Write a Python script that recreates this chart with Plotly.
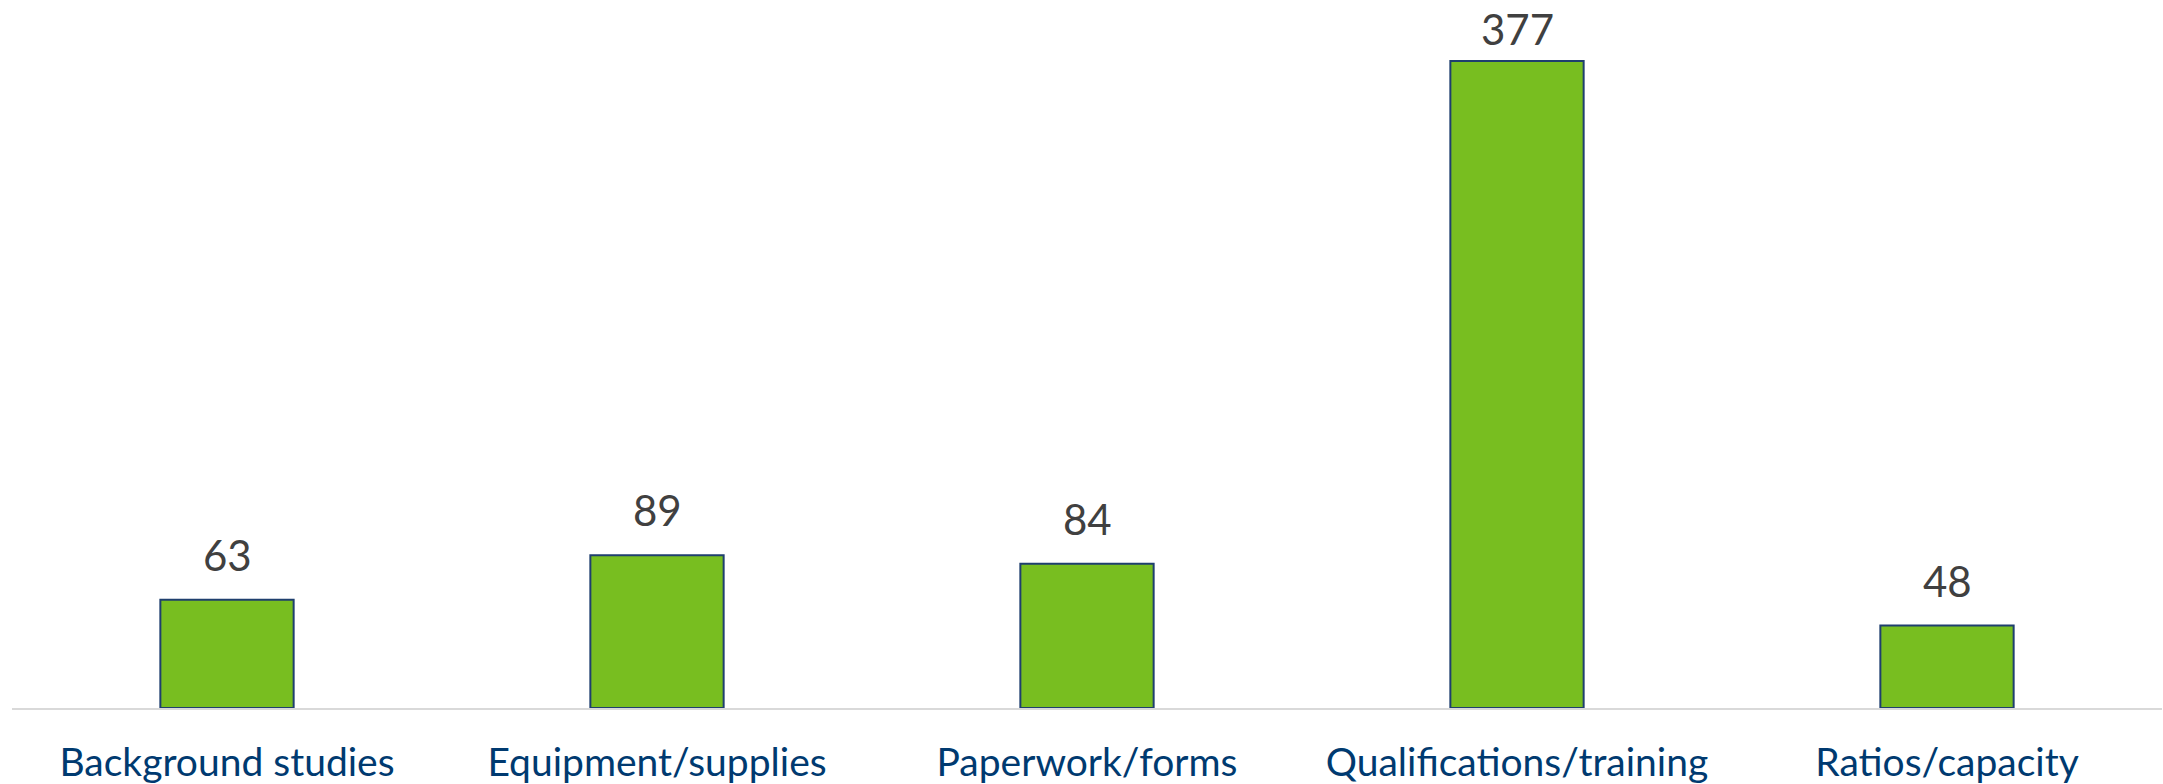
import plotly.graph_objects as go

categories = ["Background studies", "Equipment/supplies", "Paperwork/forms",
              "Qualifications/training", "Ratios/capacity"]
values = [63, 89, 84, 377, 48]

FONT = "Lato, Open Sans, sans-serif"
Y_MAX = 412.5
PX_PER_UNIT = 708 / Y_MAX
LABEL_SPACE = 75 / PX_PER_UNIT  # room a value label needs above its bar (data units)

fig = go.Figure(go.Bar(
    x=categories,
    y=values,
    cliponaxis=False,
    marker=dict(color="#78BE20", line=dict(color="#1F3F6E", width=2)),
))

for c, v in zip(categories, values):
    label_font = dict(family=FONT, size=42, color="#404040")
    if v + LABEL_SPACE <= Y_MAX:
        fig.add_annotation(x=c, y=v, text=str(v), showarrow=False,
                           yanchor="bottom", yshift=18, font=label_font)
    else:
        # like Excel: keep the label inside the chart area
        fig.add_annotation(x=c, y=1, yref="paper", text=str(v), showarrow=False,
                           yanchor="top", yshift=-2, font=label_font)

fig.update_layout(
    width=2163, height=784,
    margin=dict(l=12, r=1, t=0, b=76),
    paper_bgcolor="white", plot_bgcolor="white",
    bargap=0.69,
    showlegend=False,
    xaxis=dict(
        showline=True, linecolor="#D9D9D9", linewidth=2, automargin=False,
        showgrid=False, ticks="outside", ticklen=19, tickcolor="rgba(0,0,0,0)",
        tickfont=dict(family=FONT, size=39, color="#003A70"),
    ),
    yaxis=dict(range=[0, Y_MAX], visible=False, showgrid=False, zeroline=False,
               automargin=False),
)

fig.write_html("out.html", config={"displayModeBar": False},
               post_script="document.body.style.margin='0';document.body.style.overflow='hidden';")
